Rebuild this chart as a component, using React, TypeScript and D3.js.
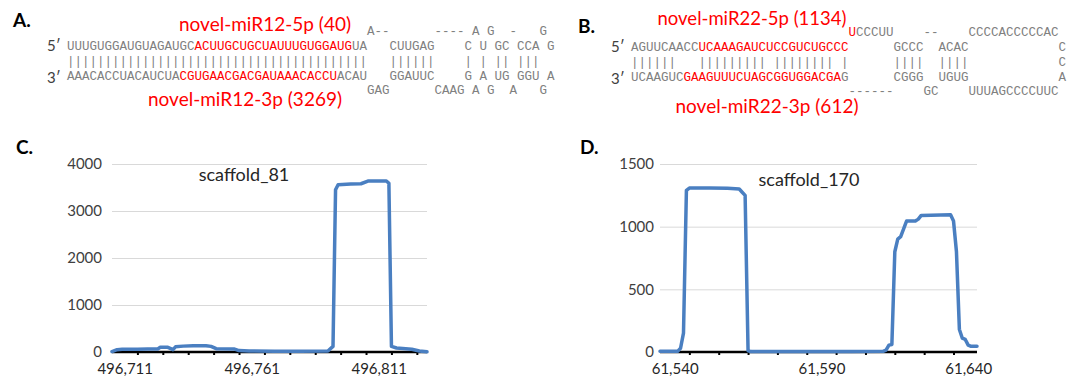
import React, { useEffect, useRef } from 'react'
import * as d3 from 'd3'

// hairpin rows: [column, text, red?]  top loop / 5' / pairs / 3' / bottom loop
const hairpinA = [
  [[40, 'A--'], [49, '----'], [54, 'A'], [56, 'G'], [59, '-'], [63, 'G']],
  [[0, 'UUUGUGGAUGUAGAUGC'], [17, 'ACUUGCUGCUAUUUGUGGAUG', 1], [38, 'UA'], [43, 'CUUGAG'], [53, 'C'], [55, 'U'], [57, 'GC'], [60, 'CCA'], [64, 'G']],
  [[0, '||||||||||||||||||||||||||||||||||||||||'], [43, '||||||'], [53, '|'], [55, '|'], [57, '||'], [60, '|||']],
  [[0, 'AAACACCUACAUCUA'], [15, 'CGUGAACGACGAUAAACACCU', 1], [36, 'ACAU'], [43, 'GGAUUC'], [53, 'G'], [55, 'A'], [57, 'UG'], [60, 'GGU'], [64, 'A']],
  [[40, 'GAG'], [49, 'CAAG'], [54, 'A'], [56, 'G'], [59, 'A'], [63, 'G']],
]
const hairpinB = [
  [[29, 'U', 1], [30, 'CCCUU'], [39, '--'], [45, 'CCCCACCCCCAC']],
  [[0, 'AGUUCAACC'], [9, 'UCAAAGAUCUCCGUCUGCCC', 1], [35, 'GCCC'], [41, 'ACAC'], [57, 'C']],
  [[0, '||||||'], [9, '|||||||||'], [19, '||||||||'], [28, '|'], [35, '||||'], [41, '||||'], [57, 'C']],
  [[0, 'UCAAGUC'], [7, 'GAAGUUUCUAGCGGUGGACGA', 1], [28, 'G'], [35, 'CGGG'], [41, 'UGUG'], [57, 'A']],
  [[29, '------'], [39, 'GC'], [45, 'UUUAGCCCCUUC']],
]

// scaffold_81 read depth
const cPos = [496706, 496708, 496710, 496716, 496720, 496724, 496725, 496728, 496730, 496731, 496734, 496738, 496743, 496745, 496747, 496754, 496756, 496760, 496770, 496780, 496791, 496793, 496794, 496795, 496800, 496804, 496807, 496814, 496815, 496816, 496818, 496824, 496827, 496830]
const cDepth = [10, 50, 60, 60, 62, 65, 100, 100, 50, 110, 125, 135, 135, 120, 70, 65, 30, 20, 15, 15, 20, 120, 3450, 3560, 3575, 3580, 3640, 3640, 3590, 120, 85, 60, 20, 5]
const cYTicks = [0, 1000, 2000, 3000, 4000]
const cXLabels = [496711, 496761, 496811]

// scaffold_170 read depth
const dPos = [61535, 61541, 61542, 61543, 61544, 61545, 61552, 61558, 61562, 61563, 61564, 61565, 61566, 61580, 61600, 61611, 61612, 61613, 61614, 61615, 61616, 61617, 61619, 61622, 61623, 61624, 61634, 61635, 61636, 61637, 61638, 61639, 61640, 61641, 61643]
const dDepth = [5, 5, 30, 150, 1290, 1308, 1308, 1306, 1300, 1275, 1250, 10, 3, 3, 3, 5, 15, 55, 60, 800, 900, 920, 1045, 1045, 1060, 1090, 1095, 1045, 800, 180, 110, 100, 55, 45, 45]
const dYTicks = [0, 500, 1000, 1500]
const dXLabels = [61540, 61590, 61640]

const SANS = 'Lato, "Open Sans", sans-serif'
const MONO = '"Liberation Mono", monospace'
const CW = 7.5
const BLUE = '#4a7fc1'

function drawHairpin(svg, rows, x0, rowY) {
  rows.forEach((segs, r) => {
    segs.forEach(([col, txt, red]) => {
      svg.append('text')
        .attr('x', x0 + col * CW).attr('y', rowY[r]).attr('dy', '0.35em')
        .attr('font-family', MONO).attr('font-size', 12.5)
        .attr('fill', red ? '#ff0000' : '#808080')
        .text(txt)
    })
  })
  svg.append('text').attr('x', x0 - 20).attr('y', rowY[1]).attr('dy', '0.35em')
    .attr('font-family', SANS).attr('font-size', 15).attr('fill', '#404040').text('5\u2032')
  svg.append('text').attr('x', x0 - 20).attr('y', rowY[3] + 2).attr('dy', '0.35em')
    .attr('font-family', SANS).attr('font-size', 15).attr('fill', '#404040').text('3\u2032')
}

function label(svg, x, y, txt, opts = {}) {
  return svg.append('text').attr('x', x).attr('y', y).attr('dy', '0.35em')
    .attr('text-anchor', opts.anchor || 'middle')
    .attr('font-family', SANS).attr('font-size', opts.size || 18)
    .attr('font-weight', opts.bold ? 700 : 400)
    .attr('fill', opts.fill || '#262626')
    .text(txt)
}

function drawChart(svg, o) {
  const x = d3.scaleLinear().domain(o.domain).range([o.x0, o.x1])
  const y = d3.scaleLinear().domain([0, o.yMax]).range([352, 164])
  const g = svg.append('g')

  g.append('g').attr('transform', `translate(${o.x0},0)`)
    .call(d3.axisLeft(y).tickValues(o.yTicks).tickSize(-(o.x1 - o.x0)).tickPadding(o.pad).tickFormat(d3.format('d')))
    .call(a => a.select('.domain').remove())
    .call(a => a.selectAll('line').attr('stroke', '#d9d9d9'))
    .call(a => a.selectAll('text').attr('font-family', SANS).attr('font-size', 15).attr('fill', '#404040'))

  g.append('line').attr('x1', o.x0).attr('x2', o.x1).attr('y1', y(0)).attr('y2', y(0))
    .attr('stroke', '#000').attr('stroke-width', 2.5)

  // small tick marks every 10 bases
  g.append('g').attr('transform', `translate(0,${y(0)})`)
    .call(d3.axisBottom(x).tickValues(d3.range(o.domain[0] + 10, o.domain[1], 10)).tickSize(3).tickFormat(() => ''))
    .call(a => a.select('.domain').remove())
    .call(a => a.selectAll('line').attr('stroke', '#000').attr('stroke-width', 2))

  g.append('g').attr('transform', `translate(0,${y(0)})`)
    .call(d3.axisBottom(x).tickValues(o.labels).tickSize(0).tickPadding(11).tickFormat(d3.format(',')))
    .call(a => a.select('.domain').remove())
    .call(a => a.selectAll('text').attr('font-family', SANS).attr('font-size', 15).attr('fill', '#262626'))

  const line = d3.line().x((d, i) => x(o.pos[i])).y(d => y(d))
  g.append('path').datum(o.depth).attr('d', line)
    .attr('fill', 'none').attr('stroke', BLUE).attr('stroke-width', 3.5)
    .attr('stroke-linejoin', 'round').attr('stroke-linecap', 'round')

  label(svg, o.titleX, o.titleY, o.title, { size: 18 })
}

export default function App() {
  const ref = useRef(null)

  useEffect(() => {
    const svg = d3.select(ref.current)
    svg.selectAll('*').remove()

    label(svg, 13, 20, 'A.', { bold: true, anchor: 'start', size: 19, fill: '#000' })
    label(svg, 578, 26, 'B.', { bold: true, anchor: 'start', size: 19, fill: '#000' })
    label(svg, 16, 147, 'C.', { bold: true, anchor: 'start', size: 19, fill: '#000' })
    label(svg, 580, 147, 'D.', { bold: true, anchor: 'start', size: 19, fill: '#000' })

    drawHairpin(svg, hairpinA, 67, [31, 46, 61, 76, 90])
    drawHairpin(svg, hairpinB, 631, [32, 47, 62, 77, 91])

    label(svg, 265, 24, 'novel-miR12-5p (40)', { fill: '#ff0000', size: 19 })
    label(svg, 245, 99, 'novel-miR12-3p (3269)', { fill: '#ff0000', size: 19 })
    label(svg, 752, 19, 'novel-miR22-5p (1134)', { fill: '#ff0000', size: 18.5 })
    label(svg, 767, 106, 'novel-miR22-3p (612)', { fill: '#ff0000', size: 19 })

    drawChart(svg, {
      pos: cPos, depth: cDepth, domain: [496706, 496830], x0: 112, x1: 427,
      yMax: 4000, yTicks: cYTicks, labels: cXLabels, pad: 10,
      title: 'scaffold_81', titleX: 244, titleY: 175,
    })
    drawChart(svg, {
      pos: dPos, depth: dDepth, domain: [61535, 61643], x0: 660, x1: 977,
      yMax: 1500, yTicks: dYTicks, labels: dXLabels, pad: 6,
      title: 'scaffold_170', titleX: 809, titleY: 180,
    })
  }, [])

  return (
    <svg ref={ref} width={1072} height={378}
      style={{ position: 'absolute', left: 0, top: 0, background: '#fff' }} />
  )
}
